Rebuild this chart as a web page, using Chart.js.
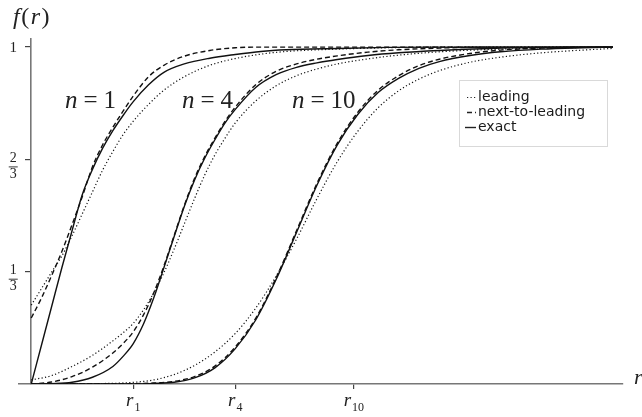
<!DOCTYPE html>
<html>
<head>
<meta charset="utf-8">
<script src="https://cdn.jsdelivr.net/npm/chart.js@4.4.1/dist/chart.umd.min.js"></script>
<style>html,body{margin:0;padding:0;background:#fff}</style>
</head>
<body>
<canvas id="grafik" width="642" height="417"></canvas>
<script>
// r measured in units of r_1 (r_n ~ sqrt(n) r_1)
const xTicks = [1, 2, 3.1623];
const xTickSubs = ['1', '4', '10'];
const yTicks = [1/3, 2/3, 1];
const yTickLabels = ['1/3', '2/3', '1'];
const nValues = ['1', '4', '10'];
const legendLabels = ['leading', 'next-to-leading', 'exact'];

// n = 1
const r_n1 = [0, 0.1, 0.2, 0.3, 0.4, 0.5, 0.6, 0.7, 0.8, 0.9, 1.0, 1.15, 1.3, 1.5, 1.75, 2.0, 2.25, 2.5, 3.0, 3.5, 4.0, 4.5, 5.0, 5.7];
const lead_n1  = [0.234, 0.283, 0.332, 0.38, 0.44, 0.505, 0.57, 0.635, 0.69, 0.74, 0.78, 0.83, 0.872, 0.912, 0.946, 0.966, 0.979, 0.987, 0.994, 0.998, 1, 1, 1, 1];
const nlo_n1   = [0.196, 0.255, 0.322, 0.393, 0.473, 0.556, 0.645, 0.71, 0.762, 0.81, 0.855, 0.912, 0.946, 0.973, 0.99, 0.998, 1, 1, 1, 1, 1, 1, 1, 1];
const exact_n1 = [0, 0.115, 0.23, 0.345, 0.455, 0.562, 0.637, 0.70, 0.752, 0.797, 0.838, 0.888, 0.925, 0.95, 0.967, 0.978, 0.987, 0.992, 0.996, 0.999, 1, 1, 1, 1];

// n = 4
const r_n4 = [0, 0.2, 0.4, 0.6, 0.8, 0.9, 1.0, 1.1, 1.2, 1.3, 1.4, 1.5, 1.6, 1.7, 1.8, 1.9, 2.0, 2.2, 2.4, 2.6, 2.8, 3.0, 3.3, 3.6, 4.0, 4.5, 5.0, 5.7];
const lead_n4  = [0.012, 0.025, 0.052, 0.085, 0.128, 0.152, 0.18, 0.22, 0.27, 0.33, 0.4, 0.475, 0.55, 0.62, 0.68, 0.73, 0.775, 0.84, 0.885, 0.915, 0.935, 0.95, 0.965, 0.976, 0.986, 0.993, 0.997, 1];
const nlo_n4   = [0, 0.006, 0.022, 0.05, 0.092, 0.12, 0.155, 0.205, 0.27, 0.35, 0.44, 0.53, 0.61, 0.675, 0.73, 0.78, 0.822, 0.888, 0.928, 0.95, 0.964, 0.974, 0.985, 0.992, 0.997, 1, 1, 1];
const exact_n4 = [0, 0.001, 0.005, 0.02, 0.052, 0.082, 0.12, 0.178, 0.255, 0.345, 0.437, 0.527, 0.605, 0.67, 0.725, 0.775, 0.815, 0.88, 0.918, 0.94, 0.953, 0.963, 0.975, 0.983, 0.99, 0.996, 0.999, 1];

// n = 10
const r_n10 = [0, 0.8, 1.0, 1.2, 1.4, 1.6, 1.8, 2.0, 2.2, 2.4, 2.6, 2.8, 3.0, 3.2, 3.4, 3.6, 3.8, 4.0, 4.3, 4.6, 5.0, 5.4, 5.7];
const lead_n10  = [0, 0.002, 0.005, 0.012, 0.028, 0.055, 0.095, 0.15, 0.225, 0.32, 0.43, 0.55, 0.66, 0.75, 0.82, 0.87, 0.905, 0.93, 0.955, 0.97, 0.983, 0.991, 0.996];
const nlo_n10   = [0, 0, 0.001, 0.003, 0.008, 0.022, 0.053, 0.11, 0.195, 0.315, 0.455, 0.595, 0.715, 0.806, 0.872, 0.915, 0.945, 0.964, 0.981, 0.991, 0.997, 1, 1];
const exact_n10 = [0, 0, 0.0005, 0.002, 0.005, 0.018, 0.048, 0.105, 0.19, 0.31, 0.45, 0.59, 0.71, 0.8, 0.865, 0.907, 0.937, 0.957, 0.975, 0.986, 0.994, 0.998, 1];

const styles = {
  leading: {borderWidth: 1.2, borderDash: [1.2, 2.3]},
  nlo:     {borderWidth: 1.4, borderDash: [5, 3]},
  exact:   {borderWidth: 1.4, borderDash: []}
};

function curve(xs, ys, kind){
  return Object.assign({
    data: xs.map((x, i) => ({x: x, y: ys[i]})),
    borderColor: '#111',
    pointRadius: 0,
    fill: false,
    cubicInterpolationMode: 'monotone'
  }, styles[kind]);
}

const datasets = [
  curve(r_n1, lead_n1, 'leading'), curve(r_n1, nlo_n1, 'nlo'), curve(r_n1, exact_n1, 'exact'),
  curve(r_n4, lead_n4, 'leading'), curve(r_n4, nlo_n4, 'nlo'), curve(r_n4, exact_n4, 'exact'),
  curve(r_n10, lead_n10, 'leading'), curve(r_n10, nlo_n10, 'nlo'), curve(r_n10, exact_n10, 'exact')
];

const serif = '"Liberation Serif", "DejaVu Serif", serif';

// text, fractions and the legend, placed from the scales
const labels = {
  id: 'labels',
  afterDraw(chart){
    const ctx = chart.ctx;
    const xs = chart.scales.x, ys = chart.scales.y;
    const x0 = xs.getPixelForValue(0);
    ctx.save();
    ctx.fillStyle = '#222';
    ctx.strokeStyle = '#222';

    // y tick labels
    ctx.textAlign = 'center';
    ctx.textBaseline = 'middle';
    yTicks.forEach((v, i) => {
      const py = ys.getPixelForValue(v);
      const parts = yTickLabels[i].split('/');
      const cx = x0 - 18;
      if (parts.length === 1){
        ctx.font = '15px ' + serif;
        ctx.fillText(parts[0], cx, py + 1);
      } else {
        ctx.font = '14px ' + serif;
        ctx.fillText(parts[0], cx, py - 1);
        ctx.fillText(parts[1], cx, py + 15);
        ctx.lineWidth = 0.9;
        ctx.beginPath();
        ctx.moveTo(cx - 4.5, py + 7.5);
        ctx.lineTo(cx + 4.5, py + 7.5);
        ctx.stroke();
      }
    });

    // x tick labels r_n
    ctx.textBaseline = 'alphabetic';
    xTicks.forEach((v, i) => {
      const px = xs.getPixelForValue(v);
      ctx.font = 'italic 19px ' + serif;
      const wr = ctx.measureText('r').width;
      ctx.font = '12px ' + serif;
      const ws = ctx.measureText(xTickSubs[i]).width;
      const left = px - (wr + ws + 1) / 2;
      ctx.textAlign = 'left';
      ctx.font = 'italic 19px ' + serif;
      ctx.fillText('r', left, 406);
      ctx.font = '12px ' + serif;
      ctx.fillText(xTickSubs[i], left + wr + 1, 411);
    });

    // axis titles
    ctx.textAlign = 'left';
    ctx.font = 'italic 22px ' + serif;
    ctx.fillText('r', 634, 384);
    let cx = 13;
    [['f', true], ['(', false], ['r', true], [')', false]].forEach(p => {
      ctx.font = (p[1] ? 'italic ' : '') + '24px ' + serif;
      ctx.fillText(p[0], cx, 24);
      cx += ctx.measureText(p[0]).width + 1.5;
    });

    // n = ... labels
    const nLeft = [65, 182, 292];
    nValues.forEach((n, i) => {
      let x = nLeft[i];
      ctx.font = 'italic 25px ' + serif;
      ctx.fillText('n', x, 108);
      x += ctx.measureText('n').width + 6;
      ctx.font = '25px ' + serif;
      ctx.fillText('=', x, 108);
      x += ctx.measureText('=').width + 6;
      ctx.fillText(n, x, 108);
    });

    // legend
    ctx.strokeStyle = '#d9d9d9';
    ctx.lineWidth = 1;
    ctx.strokeRect(459.5, 80.5, 148, 66);
    ctx.font = '14px "DejaVu Sans", sans-serif';
    ctx.textBaseline = 'middle';
    ctx.fillStyle = '#1a1a1a';
    const kinds = ['leading', 'nlo', 'exact'];
    legendLabels.forEach((t, i) => {
      const y = 97 + i * 15;
      ctx.strokeStyle = '#222';
      ctx.lineWidth = styles[kinds[i]].borderWidth;
      ctx.setLineDash(styles[kinds[i]].borderDash);
      ctx.beginPath();
      ctx.moveTo(i === 2 ? 465 : 467, y + 0.5);
      ctx.lineTo(476, y + 0.5);
      ctx.stroke();
      ctx.setLineDash([]);
      ctx.fillText(t, 478, y);
    });
    ctx.restore();
  }
};

const chart = new Chart(document.getElementById('grafik'), {
  type: 'line',
  data: {datasets: datasets},
  options: {
    responsive: false,
    animation: false,
    layout: {padding: {left: 19, right: 19, top: 39, bottom: 0}},
    plugins: {legend: {display: false}, tooltip: {enabled: false}},
    scales: {
      x: {
        type: 'linear', min: -0.12, max: 5.8, position: 'bottom',
        ticks: {display: false},
        grid: {drawOnChartArea: false, tickLength: 5, color: '#444', lineWidth: 1.2},
        border: {color: '#777', width: 1.6},
        afterBuildTicks: s => { s.ticks = xTicks.map(v => ({value: v})); },
        afterFit: s => { s.height = 33; }
      },
      y: {
        type: 'linear', min: 0, max: 1.024, position: {x: 0},
        ticks: {display: false},
        grid: {drawOnChartArea: false, tickLength: 5, color: '#444', lineWidth: 1.2},
        border: {color: '#777', width: 1.6},
        afterBuildTicks: s => { s.ticks = yTicks.map(v => ({value: v})); }
      }
    }
  },
  plugins: [labels]
});
</script>
</body>
</html>
